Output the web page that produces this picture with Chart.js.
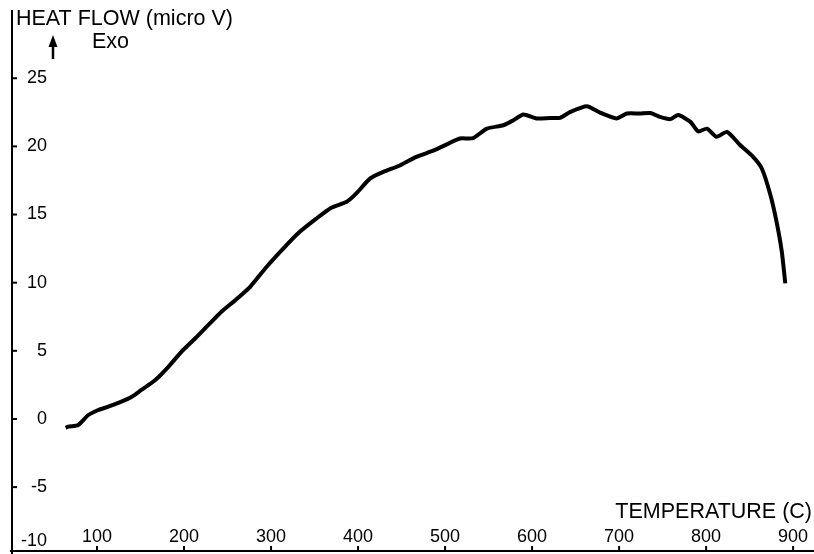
<!DOCTYPE html>
<html>
<head>
<meta charset="utf-8">
<script src="https://cdn.jsdelivr.net/npm/chart.js@4/dist/chart.umd.min.js"></script>
<style>
  html, body { margin: 0; padding: 0; background: #fff; }
  #wrap { width: 814px; height: 554px; }
</style>
</head>
<body>
<div id="wrap"><canvas id="chart" width="814" height="554"></canvas></div>
<script>
// temperature (C)
const temps = [64, 67, 78.5, 90, 101.5, 113, 128, 140, 151, 167, 182, 197, 213, 228, 243, 259,
  276, 295, 314, 333, 352, 368, 387, 398, 414, 429, 448, 467, 487, 502,
  517, 532, 548, 567, 578, 590, 605, 621, 632, 644, 663, 678, 697, 709, 724,
  736, 747, 759, 768, 782, 791, 801, 812, 824, 839, 854, 864, 874, 881, 887, 891];
// heat flow (micro V)
const heatFlow = [-0.65, -0.56, -0.44, 0.29, 0.66, 0.9, 1.27, 1.63, 2.13, 2.86, 3.83, 4.93, 5.92, 6.9, 7.87, 8.72,
  9.7, 11.17, 12.5, 13.73, 14.7, 15.45, 15.93, 16.55, 17.65, 18.13, 18.6, 19.23, 19.7, 20.15,
  20.58, 20.6, 21.3, 21.55, 21.9, 22.34, 22.05, 22.09, 22.09, 22.53, 22.95, 22.48, 22.05, 22.41, 22.41,
  22.45, 22.16, 22.0, 22.3, 21.8, 21.1, 21.3, 20.7, 21.06, 20.1, 19.23, 18.38, 16.42, 14.46, 12.27, 9.95];

const xTicks = [100, 200, 300, 400, 500, 600, 700, 800, 900];
const yTicks = [-10, -5, 0, 5, 10, 15, 20, 25];

const yTitle = 'HEAT FLOW (micro V)';
const xTitle = 'TEMPERATURE (C)';
const exoLabel = 'Exo';

const FONT = '"Liberation Sans", Arial, Helvetica, sans-serif';

const points = temps.map((t, i) => ({ x: t, y: heatFlow[i] }));

// draws the plain axes, ticks and labels the way the scan has them
const axesPlugin = {
  id: 'scanAxes',
  afterDraw(chart) {
    const ctx = chart.ctx;
    const xs = chart.scales.x;
    const ys = chart.scales.y;
    const x0 = xs.getPixelForValue(0);
    ctx.save();
    ctx.strokeStyle = '#000';
    ctx.fillStyle = '#000';
    ctx.lineWidth = 2;

    // y axis line
    ctx.beginPath();
    ctx.moveTo(x0 + 2, 10);
    ctx.lineTo(x0 + 2, 554);
    ctx.stroke();
    // x axis line
    ctx.beginPath();
    ctx.moveTo(x0, 551);
    ctx.lineTo(814, 551);
    ctx.stroke();

    // y ticks + labels
    ctx.font = '18px ' + FONT;
    ctx.textAlign = 'right';
    ctx.textBaseline = 'middle';
    yTicks.forEach(v => {
      const py = ys.getPixelForValue(v);
      if (py <= 552) {
        ctx.beginPath();
        ctx.moveTo(x0 + 2, py);
        ctx.lineTo(x0 + 7, py);
        ctx.stroke();
      }
      ctx.fillText(String(v), 47, Math.min(py, 541));
    });

    // x ticks + labels
    ctx.textAlign = 'center';
    xTicks.forEach(v => {
      const px = xs.getPixelForValue(v);
      ctx.beginPath();
      ctx.moveTo(px, 551);
      ctx.lineTo(px, 546);
      ctx.stroke();
      ctx.fillText(String(v), px, 537);
    });

    // titles
    ctx.font = '21.5px ' + FONT;
    ctx.textBaseline = 'alphabetic';
    ctx.textAlign = 'left';
    ctx.fillText(yTitle, 16, 25);
    ctx.fillText(exoLabel, 92, 48);
    ctx.textAlign = 'right';
    ctx.fillText(xTitle, 812, 518);

    // exo arrow
    ctx.lineWidth = 2.5;
    ctx.beginPath();
    ctx.moveTo(53, 59);
    ctx.lineTo(53, 42);
    ctx.stroke();
    ctx.beginPath();
    ctx.moveTo(53, 35);
    ctx.lineTo(48.5, 47);
    ctx.lineTo(57.5, 47);
    ctx.closePath();
    ctx.fill();
    ctx.restore();
  }
};

new Chart(document.getElementById('chart'), {
  type: 'line',
  data: {
    datasets: [{
      data: points,
      borderColor: '#000',
      borderWidth: 4,
      pointRadius: 0,
      tension: 0.2,
      fill: false,
    }],
  },
  options: {
    responsive: false,
    animation: false,
    devicePixelRatio: 1,
    layout: { padding: { left: 10, right: 0, top: 0, bottom: 2 } },
    plugins: {
      legend: { display: false },
      tooltip: { enabled: false },
    },
    scales: {
      x: { type: 'linear', min: 0, max: 924, display: false },
      y: { min: -9.76, max: 30.74, display: false },
    },
  },
  plugins: [axesPlugin],
});
</script>
</body>
</html>
